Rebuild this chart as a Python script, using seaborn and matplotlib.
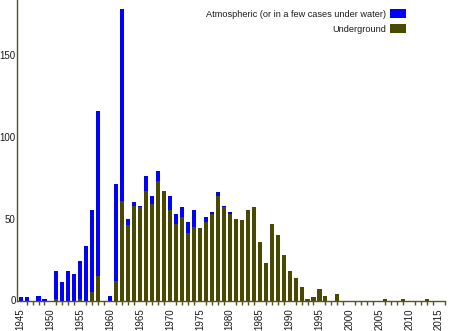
import matplotlib
matplotlib.use("Agg")
import matplotlib.pyplot as plt
from matplotlib.patches import Patch
from matplotlib.ticker import MultipleLocator
import seaborn as sns
import pandas as pd

# Nuclear tests per year, split by environment
years = [1945, 1946, 1948, 1949, 1951, 1952, 1953, 1954, 1955, 1956, 1957, 1958,
         1960, 1961, 1962, 1963, 1964, 1965, 1966, 1967, 1968, 1969, 1970, 1971,
         1972, 1973, 1974, 1975, 1976, 1977, 1978, 1979, 1980, 1981, 1982, 1983,
         1984, 1985, 1986, 1987, 1988, 1989, 1990, 1991, 1992, 1993, 1994, 1995,
         1996, 1998, 2006, 2009, 2013]
atmospheric = [2, 2, 3, 1, 17, 11, 18, 16, 23, 33, 50, 101,
               3, 59, 117, 4, 2, 1, 9, 5, 6, 0, 9, 6,
               6, 7, 10, 0, 3, 1, 2, 1, 1, 0, 0, 0,
               0, 0, 0, 0, 0, 0, 0, 0, 0, 0, 0, 0,
               0, 0, 0, 0, 0]
underground = [0, 0, 0, 0, 1, 0, 0, 0, 1, 0, 5, 15,
               0, 12, 61, 46, 58, 57, 67, 59, 73, 67, 55, 47,
               51, 41, 45, 44, 48, 53, 64, 57, 53, 50, 49, 55,
               57, 36, 23, 47, 40, 28, 18, 14, 8, 1, 2, 7,
               3, 4, 1, 1, 1]
legend_labels = ["Atmospheric (or in a few cases under water)", "Underground"]

df = pd.DataFrame({"year": years, "atmospheric": atmospheric, "underground": underground})
df["total"] = df["atmospheric"] + df["underground"]

BLUE = "#0000ff"
OLIVE = "#494900"
AXIS = "#55551f"

sns.set_style("white")
plt.rcParams["font.family"] = ["Liberation Sans", "DejaVu Sans"]

fig = plt.figure(figsize=(4.5, 3.31), dpi=100)
ax = fig.add_axes([17.3 / 450, 30.5 / 331, (445 - 17.3) / 450, 300.5 / 331])

# total bar in blue, underground share drawn over it from the baseline
sns.barplot(data=df, x="year", y="total", native_scale=True, color=BLUE,
            saturation=1, width=0.68, linewidth=0, ax=ax)
sns.barplot(data=df, x="year", y="underground", native_scale=True, color=OLIVE,
            saturation=1, width=0.68, linewidth=0, ax=ax)

ax.set_xlim(1944.45, 2016)
ax.set_ylim(0, 300.5 / 1.6367)
ax.set_xlabel("")
ax.set_ylabel("")

for side in ("top", "right"):
    ax.spines[side].set_visible(False)
for side in ("left", "bottom"):
    ax.spines[side].set_color(AXIS)
    ax.spines[side].set_linewidth(1.0)

ax.xaxis.set_major_locator(MultipleLocator(5))
ax.xaxis.set_minor_locator(MultipleLocator(1))
ax.set_xticks(list(range(1945, 2016, 5)))
ax.set_xticklabels([str(y) for y in range(1945, 2016, 5)], rotation=90)
ax.set_yticks([0, 50, 100, 150])
ax.set_yticklabels(["0", "50", "100", "150"])

ax.tick_params(axis="x", which="major", direction="out", length=4, width=1,
               color=AXIS, labelsize=7, labelcolor="#1a1a1a", pad=1.5)
ax.tick_params(axis="x", which="minor", direction="out", length=3, width=1,
               color=AXIS, bottom=True)
ax.tick_params(axis="y", which="major", direction="in", length=6, width=1,
               color=AXIS, labelsize=7, labelcolor="#1a1a1a", pad=1.2)

handles = [Patch(facecolor=BLUE, edgecolor="none"), Patch(facecolor=OLIVE, edgecolor="none")]
ax.legend(handles, legend_labels, loc="upper right", bbox_to_anchor=(406 / 450, 1 - 9 / 331),
          bbox_transform=fig.transFigure, frameon=False, markerfirst=False,
          fontsize=6.6, handlelength=1.8, handleheight=1.1, handletextpad=0.4,
          labelspacing=0.6, borderaxespad=0, borderpad=0, labelcolor="#1a1a1a")

fig.savefig("out.png", dpi=100)
